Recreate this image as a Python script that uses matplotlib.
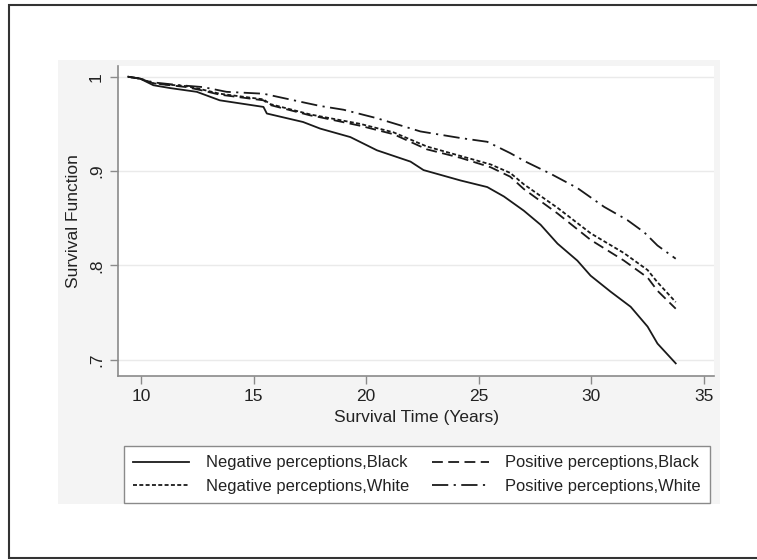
import matplotlib.pyplot as plt
from matplotlib.patches import Rectangle

plt.rcParams['font.family'] = ['Liberation Sans', 'DejaVu Sans']

# survival curves (years, survival)
neg_black_x = [9.43, 9.96, 10.55, 11.29, 12.48, 13.5, 15.44, 15.59, 17.2, 17.96, 19.3, 20.48,
               21.97, 22.55, 24.19, 25.38, 26.12, 27.0, 27.75, 28.5, 29.38, 29.97, 30.86,
               31.75, 32.5, 32.94, 33.75]
neg_black_y = [1.0, 0.998, 0.991, 0.988, 0.984, 0.975, 0.968, 0.961, 0.952, 0.945, 0.936, 0.922,
               0.910, 0.901, 0.890, 0.883, 0.873, 0.858, 0.843, 0.823, 0.805, 0.789, 0.772,
               0.756, 0.735, 0.717, 0.696]

neg_white_x = [9.43, 9.96, 10.55, 12.03, 12.62, 13.5, 15.44, 15.74, 17.52, 17.96, 19.74, 21.22,
               22.7, 24.19, 25.53, 26.4, 27.0, 28.5, 29.97, 31.45, 32.5, 32.94, 33.75]
neg_white_y = [1.0, 0.998, 0.993, 0.990, 0.987, 0.982, 0.976, 0.971, 0.960, 0.958, 0.950, 0.941,
               0.926, 0.916, 0.907, 0.898, 0.886, 0.861, 0.834, 0.813, 0.795, 0.782, 0.761]

pos_black_x = [9.43, 9.96, 10.55, 12.03, 12.62, 13.5, 15.44, 15.74, 17.52, 17.96, 19.74, 21.22,
               22.7, 24.19, 25.53, 26.4, 27.0, 28.5, 29.97, 31.45, 32.5, 32.94, 33.75]
pos_black_y = [1.0, 0.998, 0.993, 0.989, 0.986, 0.981, 0.975, 0.970, 0.959, 0.957, 0.948, 0.939,
               0.923, 0.914, 0.904, 0.894, 0.881, 0.855, 0.827, 0.805, 0.787, 0.773, 0.754]

pos_white_x = [9.43, 9.96, 10.55, 11.73, 12.77, 13.8, 15.44, 17.37, 17.96, 19.0, 20.48, 22.41,
               24.19, 25.38, 26.4, 27.08, 28.2, 29.38, 30.57, 31.6, 32.35, 32.94, 33.75]
pos_white_y = [1.0, 0.998, 0.994, 0.991, 0.989, 0.984, 0.982, 0.972, 0.969, 0.965, 0.956, 0.942,
               0.935, 0.931, 0.919, 0.910, 0.897, 0.882, 0.862, 0.848, 0.835, 0.821, 0.807]

x_ticks = [10, 15, 20, 25, 30, 35]
y_ticks = [0.7, 0.8, 0.9, 1.0]
y_labels = ['.7', '.8', '.9', '1']

W, H = 757, 560
fig = plt.figure(figsize=(W / 100, H / 100), dpi=100)

# outer frame and grey graph region
fig.patches.append(Rectangle((9 / W, 1 - 558 / H), 760 / W, 553 / H, transform=fig.transFigure,
                             facecolor='white', edgecolor='#333333', lw=1.5, zorder=-3))
fig.patches.append(Rectangle((58 / W, 1 - 504 / H), 662 / W, 444 / H, transform=fig.transFigure,
                             facecolor='#f4f4f4', edgecolor='none', zorder=-2))

ax = fig.add_axes([118 / W, 1 - 376 / H, 596 / W, 310 / H])
ax.set_facecolor('white')

lc = '#1a1a1a'
l1, = ax.plot(neg_black_x, neg_black_y, color=lc, lw=1.3, ls='-')
l2, = ax.plot(neg_white_x, neg_white_y, color=lc, lw=1.3, ls=(0, (2.2, 1.3)))
l3, = ax.plot(pos_black_x, pos_black_y, color=lc, lw=1.3, ls=(0, (6, 3)))
l4, = ax.plot(pos_white_x, pos_white_y, color=lc, lw=1.3, ls=(0, (9, 3, 1.2, 3)))

ax.set_xlim(8.98, 35.45)
ax.set_ylim(0.6826, 1.0114)
ax.set_xticks(x_ticks)
ax.set_yticks(y_ticks)
ax.set_yticklabels(y_labels, rotation=90, va='center')
ax.grid(axis='y', color='#eaeaea', lw=1)
ax.set_axisbelow(True)

for s in ['top', 'right']:
    ax.spines[s].set_visible(False)
for s in ['left', 'bottom']:
    ax.spines[s].set_color('#8a8a8a')
    ax.spines[s].set_linewidth(1.2)
ax.tick_params(colors='#8a8a8a', labelcolor='#222222', labelsize=12.5, length=6, width=1)
ax.tick_params(axis='y', pad=4)

ax.set_xlabel('Survival Time (Years)', fontsize=12.5, color='#222222', labelpad=4)
ax.set_ylabel('Survival Function', fontsize=12.5, color='#222222', labelpad=6)

leg = fig.legend([l1, l2, l3, l4],
                 ['Negative perceptions,Black', 'Negative perceptions,White',
                  'Positive perceptions,Black', 'Positive perceptions,White'],
                 ncol=2, loc='center', bbox_to_anchor=(417 / W, 1 - 474.5 / H),
                 fontsize=11.9, handlelength=3.4, handletextpad=1.0, columnspacing=1.4,
                 labelspacing=0.5, borderpad=0.55, fancybox=False, framealpha=1,
                 edgecolor='#8a8a8a')
leg.get_frame().set_linewidth(1)
for t in leg.get_texts():
    t.set_color('#222222')

fig.savefig('out.png', dpi=100)
